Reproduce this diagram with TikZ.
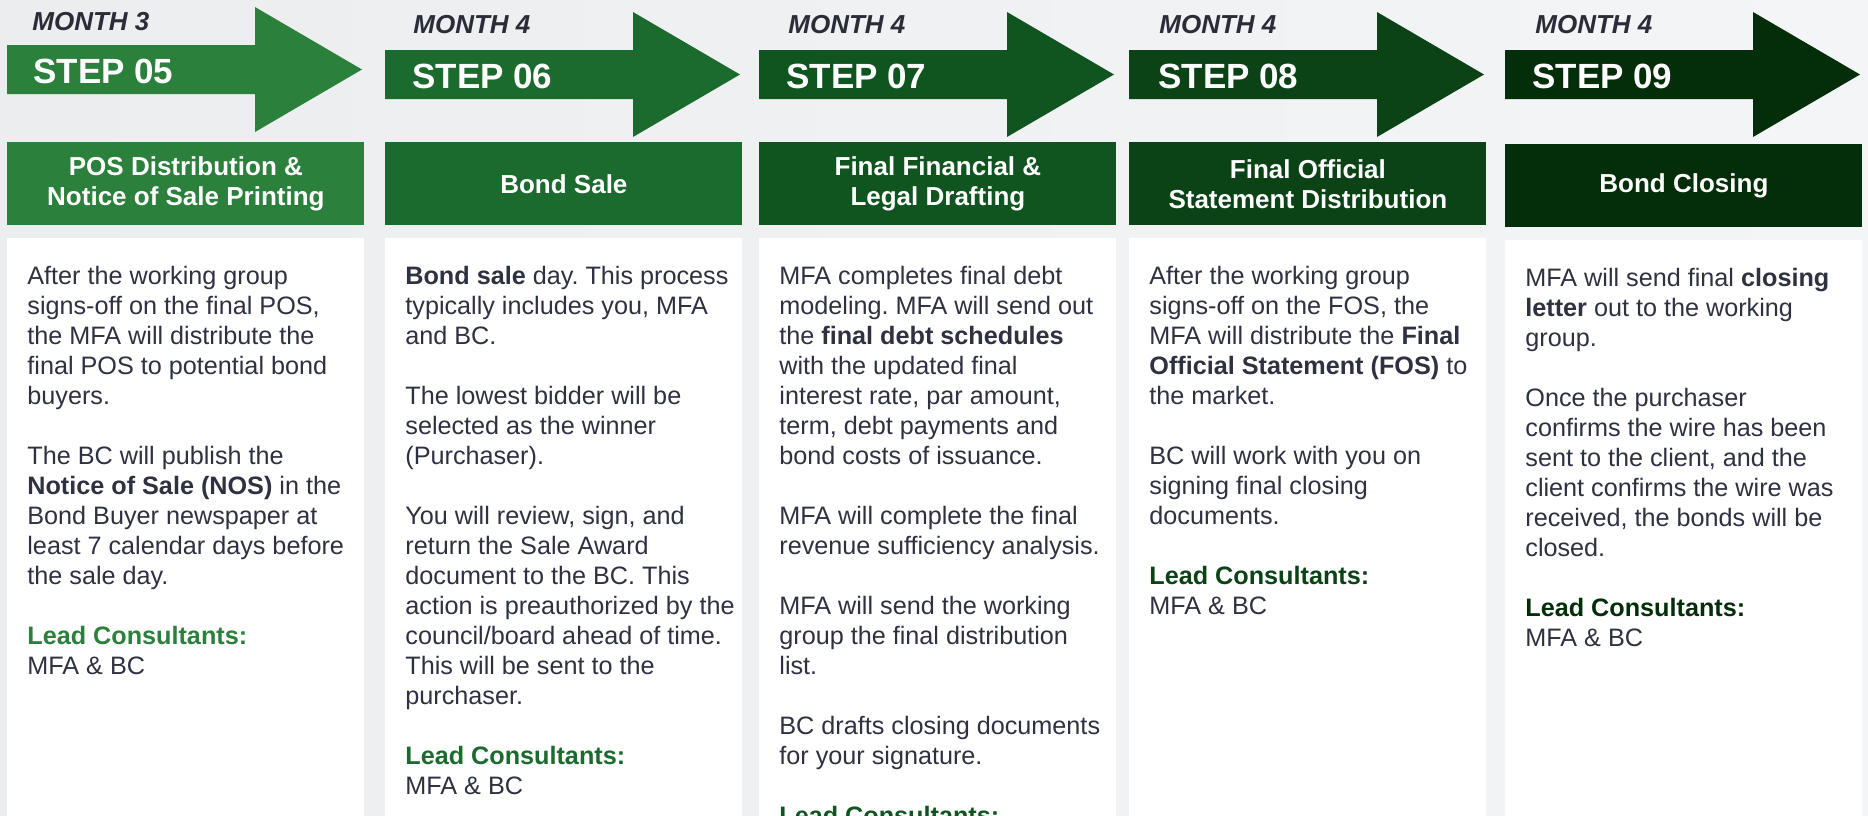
\documentclass[tikz,border=0pt]{standalone}
\usepackage{fontspec}
\setmainfont{Liberation Sans}
\usetikzlibrary{positioning}
\definecolor{stepA}{HTML}{2B803B}
\definecolor{stepB}{HTML}{1C6B2E}
\definecolor{stepC}{HTML}{105520}
\definecolor{stepD}{HTML}{0B4216}
\definecolor{stepE}{HTML}{042D0A}
\definecolor{bodygray}{HTML}{2E3140}
\definecolor{monthgray}{HTML}{2A2C38}
\definecolor{bgL}{HTML}{ECEDEF}
\definecolor{bgR}{HTML}{F4F5F7}
\frenchspacing
\tikzset{
	month/.style={anchor=base west, inner sep=0pt, text=monthgray, font=\fontsize{13}{15}\selectfont\bfseries\itshape},
	steplabel/.style={anchor=base west, inner sep=0pt, text=white, font=\fontsize{17.5}{20}\selectfont\bfseries},
	titlebox/.style={anchor=north west, minimum width=178.5pt, minimum height=41.5pt, inner sep=0pt, align=center, text=white, font=\fontsize{13}{15}\selectfont\bfseries},
	bodybox/.style={anchor=north west, fill=white, minimum width=178.5pt, minimum height=300pt, inner sep=0pt},
	bodytext/.style={anchor=north west, inner sep=0pt, align=left, text=bodygray, font=\fontsize{12.6}{15}\selectfont}
}

\begin{document}
\begin{tikzpicture}[x=0.5pt, y=-0.5pt]
	\useasboundingbox (0,0) rectangle (1868,815);
	\clip (0,0) rectangle (1868,815);
	\shade[left color=bgL, right color=bgR] (0,0) rectangle (1868,815);

	% step 05
	\fill[stepA] (7,45) -- ++(248,0) -- ++(0,-38) -- ++(107,62.5) -- ++(-107,62.5) -- ++(0,-38) -- ++(-248,0) -- cycle;
	\node[month] (month5) at (32,30) {MONTH 3};
	\node[steplabel] (step5) at (33,83) {STEP 05};
	\node[titlebox, fill=stepA] (title5) at (7,142) {POS Distribution \&\\Notice of Sale Printing};
	\node[bodybox, below=6pt of title5] (body5) {};
	\node[bodytext, below right=14pt and 10pt of body5.north west] (text5) {After the working group\\
		signs-off on the final POS,\\
		the MFA will distribute the\\
		final POS to potential bond\\
		buyers.\\[15pt]
		The BC will publish the\\
		\textbf{Notice of Sale (NOS)} in the\\
		Bond Buyer newspaper at\\
		least 7 calendar days before\\
		the sale day.\\[15pt]
		\textcolor{stepA}{\textbf{Lead Consultants:}}\\
		MFA \& BC};

	% step 06
	\fill[stepB] (385,50) -- ++(248,0) -- ++(0,-38) -- ++(107,62.5) -- ++(-107,62.5) -- ++(0,-38) -- ++(-248,0) -- cycle;
	\node[month] (month6) at (413,33) {MONTH 4};
	\node[steplabel] (step6) at (412,88) {STEP 06};
	\node[titlebox, fill=stepB] (title6) at (385,142) {Bond Sale};
	\node[bodybox, below=6pt of title6] (body6) {};
	\node[bodytext, below right=14pt and 10pt of body6.north west] (text6) {\textbf{Bond sale} day. This process\\
		typically includes you, MFA\\
		and BC.\\[15pt]
		The lowest bidder will be\\
		selected as the winner\\
		(Purchaser).\\[15pt]
		You will review, sign, and\\
		return the Sale Award\\
		document to the BC. This\\
		action is preauthorized by the\\
		council/board ahead of time.\\
		This will be sent to the\\
		purchaser.\\[15pt]
		\textcolor{stepB}{\textbf{Lead Consultants:}}\\
		MFA \& BC};

	% step 07
	\fill[stepC] (759,50) -- ++(248,0) -- ++(0,-38) -- ++(107,62.5) -- ++(-107,62.5) -- ++(0,-38) -- ++(-248,0) -- cycle;
	\node[month] (month7) at (788,33) {MONTH 4};
	\node[steplabel] (step7) at (786,88) {STEP 07};
	\node[titlebox, fill=stepC] (title7) at (759,142) {Final Financial \&\\Legal Drafting};
	\node[bodybox, below=6pt of title7] (body7) {};
	\node[bodytext, below right=14pt and 10pt of body7.north west] (text7) {MFA completes final debt\\
		modeling. MFA will send out\\
		the \textbf{final debt schedules}\\
		with the updated final\\
		interest rate, par amount,\\
		term, debt payments and\\
		bond costs of issuance.\\[15pt]
		MFA will complete the final\\
		revenue sufficiency analysis.\\[15pt]
		MFA will send the working\\
		group the final distribution\\
		list.\\[15pt]
		BC drafts closing documents\\
		for your signature.\\[15pt]
		\textcolor{stepC}{\textbf{Lead Consultants:}}};

	% step 08
	\fill[stepD] (1129,50) -- ++(248,0) -- ++(0,-38) -- ++(107,62.5) -- ++(-107,62.5) -- ++(0,-38) -- ++(-248,0) -- cycle;
	\node[month] (month8) at (1159,33) {MONTH 4};
	\node[steplabel] (step8) at (1158,88) {STEP 08};
	\node[titlebox, fill=stepD] (title8) at (1129,142) {Final Official\\Statement Distribution};
	\node[bodybox, below=6pt of title8] (body8) {};
	\node[bodytext, below right=14pt and 10pt of body8.north west] (text8) {After the working group\\
		signs-off on the FOS, the\\
		MFA will distribute the \textbf{Final}\\
		\textbf{Official Statement (FOS)} to\\
		the market.\\[15pt]
		BC will work with you on\\
		signing final closing\\
		documents.\\[15pt]
		\textcolor{stepD}{\textbf{Lead Consultants:}}\\
		MFA \& BC};

	% step 09
	\fill[stepE] (1505,50) -- ++(248,0) -- ++(0,-38) -- ++(107,62.5) -- ++(-107,62.5) -- ++(0,-38) -- ++(-248,0) -- cycle;
	\node[month] (month9) at (1535,33) {MONTH 4};
	\node[steplabel] (step9) at (1532,88) {STEP 09};
	\node[titlebox, fill=stepE] (title9) at (1505,144) {Bond Closing};
	\node[bodybox, below=6pt of title9] (body9) {};
	\node[bodytext, below right=14pt and 10pt of body9.north west] (text9) {MFA will send final \textbf{closing}\\
		\textbf{letter} out to the working\\
		group.\\[15pt]
		Once the purchaser\\
		confirms the wire has been\\
		sent to the client, and the\\
		client confirms the wire was\\
		received, the bonds will be\\
		closed.\\[15pt]
		\textcolor{stepE}{\textbf{Lead Consultants:}}\\
		MFA \& BC};
\end{tikzpicture}
\end{document}
